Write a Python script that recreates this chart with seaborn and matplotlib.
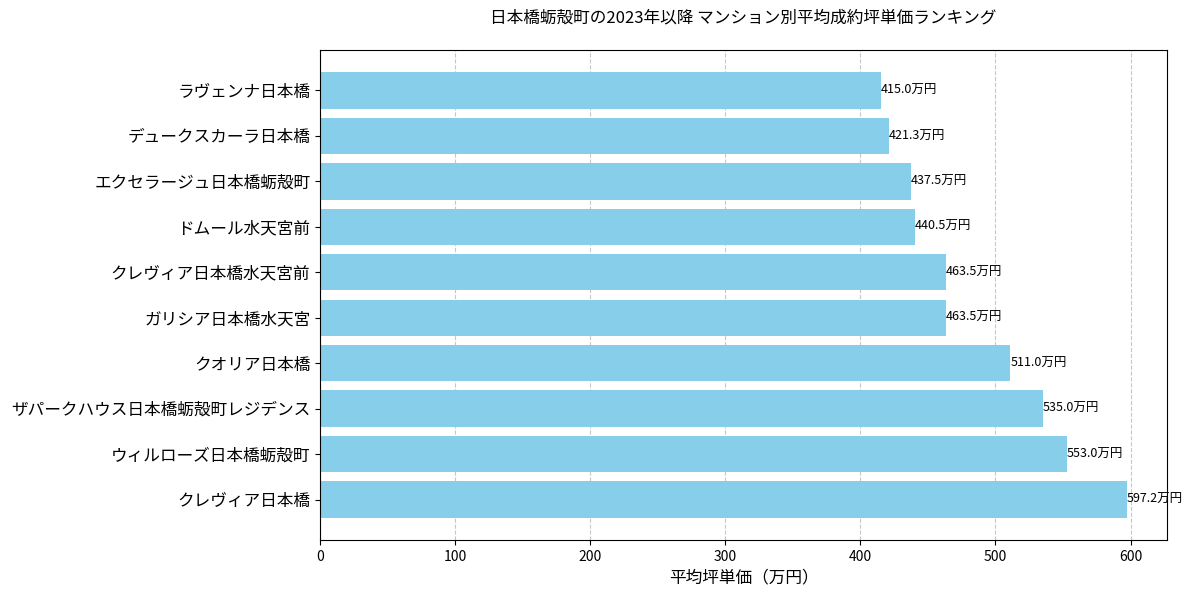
import matplotlib
matplotlib.use('Agg')
import matplotlib.pyplot as plt
import seaborn as sns
import pandas as pd

names = ['ラヴェンナ日本橋', 'デュークスカーラ日本橋', 'エクセラージュ日本橋蛎殻町',
         'ドムール水天宮前', 'クレヴィア日本橋水天宮前', 'ガリシア日本橋水天宮',
         'クオリア日本橋', 'ザパークハウス日本橋蛎殻町レジデンス',
         'ウィルローズ日本橋蛎殻町', 'クレヴィア日本橋']
prices = [415.0, 421.3, 437.5, 440.5, 463.5, 463.5, 511.0, 535.0, 553.0, 597.2]

df = pd.DataFrame({'name': names, 'price': prices})

plt.rcParams['font.family'] = ['Noto Sans CJK JP', 'DejaVu Sans']

fig, ax = plt.subplots(figsize=(11.96, 5.93), dpi=100)
sns.barplot(data=df, x='price', y='name', color='skyblue', saturation=1, ax=ax, width=0.8)

for i, v in enumerate(df['price']):
    ax.text(v, i, f'{v:.1f}万円', va='center', ha='left', fontsize=9)

ax.set_xlim(0, max(prices) * 1.05)
ax.set_ylim(len(names) - 0.5 + 0.39, -0.5 - 0.39)
ax.xaxis.grid(True, linestyle='--', alpha=0.7, color='#b0b0b0')
ax.yaxis.grid(False)
ax.set_axisbelow(True)
ax.set_xlabel('平均坪単価（万円）', fontsize=12)
ax.set_ylabel('')
ax.tick_params(axis='y', labelsize=12)
ax.tick_params(axis='x', labelsize=10)
ax.set_title('日本橋蛎殻町の2023年以降 マンション別平均成約坪単価ランキング', fontsize=12, pad=20)

fig.subplots_adjust(left=0.2676, right=0.9758, top=0.9157, bottom=0.0894)
plt.savefig('out.png', dpi=100)
